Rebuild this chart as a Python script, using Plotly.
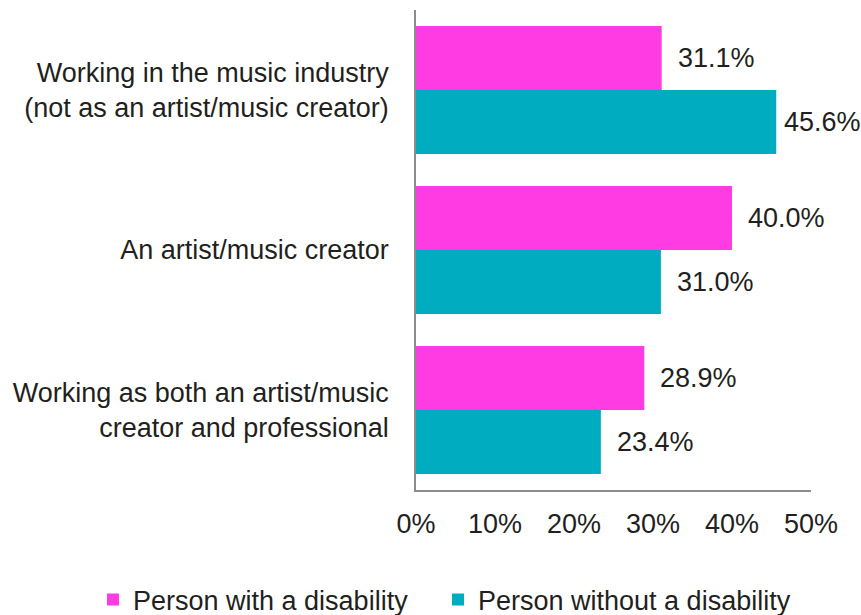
import plotly.graph_objects as go

# Survey groups (top to bottom) and the share of respondents in each
categories = [
    "Working in the music industry<br>(not as an artist/music creator)",
    "An artist/music creator",
    "Working as both an artist/music<br>creator and professional",
]
with_disability = [31.1, 40.0, 28.9]
without_disability = [45.6, 31.0, 23.4]
series_names = ["Person with a disability", "Person without a disability"]
x_ticks = [0, 10, 20, 30, 40, 50]
x_tick_labels = ["0%", "10%", "20%", "30%", "40%", "50%"]

PINK = "#FF3BE4"
TEAL = "#00ACBF"
TEXT = "#231F20"
FONT = "Liberation Sans, Arial, sans-serif"
FS = 27

fig = go.Figure()
for name, vals, col, lg in [(series_names[0], with_disability, PINK, "legend"),
                            (series_names[1], without_disability, TEAL, "legend2")]:
    fig.add_trace(go.Bar(
        y=categories, x=vals, name=name, orientation="h",
        marker=dict(color=col, line=dict(width=0)),
        legend=lg, hoverinfo="skip",
    ))

# value labels just past the end of each bar
annotations = []
for k, vals in enumerate([with_disability, without_disability]):
    off = -0.2 if k == 0 else 0.2
    for i, v in enumerate(vals):
        annotations.append(dict(
            x=v, y=i + off, xref="x", yref="y",
            text=f"{v:.1f}%", showarrow=False,
            xanchor="left", yanchor="middle",
            xshift=14 if v < 45 else 6,
            font=dict(family=FONT, size=FS, color=TEXT),
        ))

legend_style = dict(
    orientation="h", xanchor="left", yanchor="middle",
    y=-0.229, itemwidth=30, bgcolor="rgba(0,0,0,0)",
    font=dict(family=FONT, size=FS, color=TEXT),
)

fig.update_layout(
    width=861, height=615,
    margin=dict(l=416, r=50, t=10, b=125, autoexpand=False),
    paper_bgcolor="white", plot_bgcolor="white",
    barmode="group", bargap=0.2, bargroupgap=0,
    font=dict(family=FONT, size=FS, color=TEXT),
    annotations=annotations,
    showlegend=True,
    legend=dict(x=-0.8177, **legend_style),
    legend2=dict(x=0.0557, **legend_style),
    xaxis=dict(
        range=[0, 50], tickvals=x_ticks, ticktext=x_tick_labels,
        showgrid=False, zeroline=False,
        showline=True, linecolor="#8C8C8C", linewidth=1.5,
        ticks="outside", ticklen=9, tickcolor="rgba(0,0,0,0)",
        tickfont=dict(family=FONT, size=FS, color=TEXT),
        fixedrange=True,
    ),
    yaxis=dict(
        autorange="reversed", showgrid=False, zeroline=False,
        showline=True, linecolor="#8C8C8C", linewidth=1.5,
        ticks="outside", ticklen=20, tickcolor="rgba(0,0,0,0)",
        tickfont=dict(family=FONT, size=FS, color=TEXT),
        fixedrange=True,
    ),
)

fig.write_html("out.html", config={"displayModeBar": False})
